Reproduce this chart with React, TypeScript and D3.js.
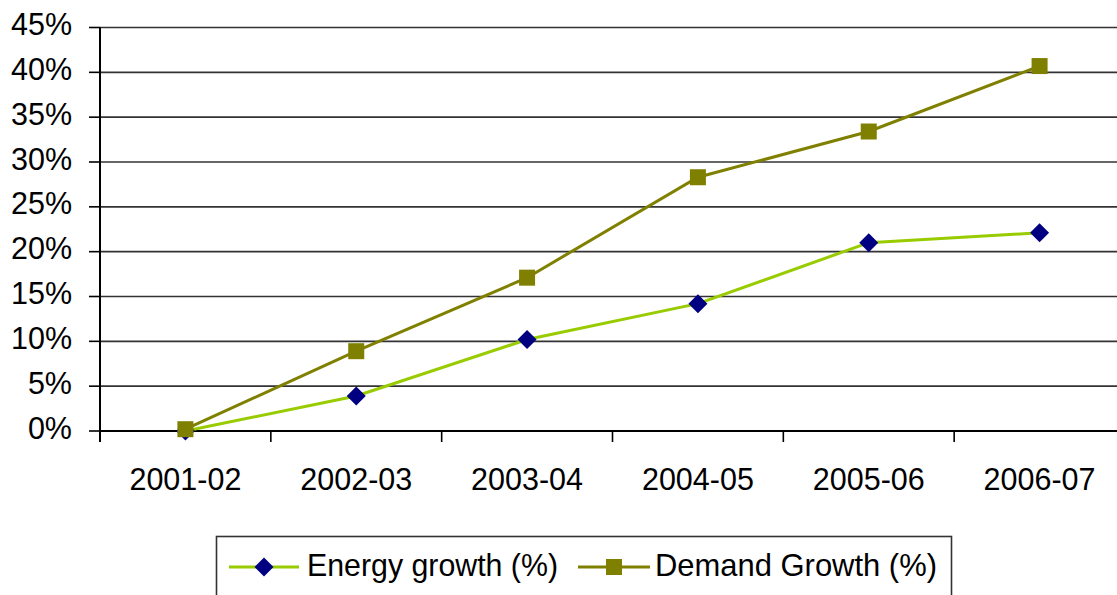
import React from "react";
import * as d3 from "d3";

const categories = ["2001-02", "2002-03", "2003-04", "2004-05", "2005-06", "2006-07"];
const energyGrowth = [0, 3.9, 10.2, 14.2, 21.0, 22.1];
const demandGrowth = [0.2, 8.9, 17.1, 28.3, 33.4, 40.7];
const yTicks = [0, 5, 10, 15, 20, 25, 30, 35, 40, 45];
const seriesNames = ["Energy growth (%)", "Demand Growth (%)"];

const W = 1117;
const H = 595;
const FONT = "'Liberation Sans', Arial, sans-serif";
const ENERGY_LINE = "#99cc00";
const ENERGY_MARK = "#000080";
const DEMAND = "#808000";

export default function App() {
  const x = d3.scaleBand<string>().domain(categories).range([100, 1125]);
  const y = d3.scaleLinear().domain([0, 45]).range([431, 27.5]);
  const cx = (c: string) => (x(c) as number) + x.bandwidth() / 2;

  const line = d3
    .line<number>()
    .x((_, i) => cx(categories[i]))
    .y((d) => y(d));

  const diamond = (px: number, py: number, r: number) =>
    `M${px},${py - r}L${px + r},${py}L${px},${py + r}L${px - r},${py}Z`;

  return (
    <svg
      width={W}
      height={H}
      style={{ position: "absolute", left: 0, top: 0, background: "#fff" }}
      fontFamily={FONT}
    >
      <rect x={0} y={0} width={W} height={H} fill="#fff" />
      {/* gridlines */}
      {yTicks.map((t) => (
        <line key={"g" + t} x1={100} x2={W} y1={y(t)} y2={y(t)} stroke={t === 0 ? "#000" : "#333"} strokeWidth={t === 0 ? 2 : 1.6} />
      ))}
      {/* y axis */}
      <line x1={100} x2={100} y1={y(45)} y2={442} stroke="#000" strokeWidth={2} />
      {yTicks.map((t) => (
        <g key={"yt" + t}>
          <line x1={89} x2={100} y1={y(t)} y2={y(t)} stroke="#000" strokeWidth={1.6} />
          <text x={72} y={y(t) + 7.5} textAnchor="end" fontSize={30.5} fill="#000">
            {t + "%"}
          </text>
        </g>
      ))}
      {/* x ticks */}
      {categories.map((c) => (
        <line key={"xt" + c} x1={x(c) as number} x2={x(c) as number} y1={431} y2={442} stroke="#000" strokeWidth={1.6} />
      ))}
      {categories.map((c) => (
        <text key={"xl" + c} x={cx(c)} y={490} textAnchor="middle" fontSize={30.5} fill="#000">
          {c}
        </text>
      ))}
      {/* lines */}
      <path d={line(energyGrowth) || ""} fill="none" stroke={ENERGY_LINE} strokeWidth={3} />
      <path d={line(demandGrowth) || ""} fill="none" stroke={DEMAND} strokeWidth={3} />
      {energyGrowth.map((v, i) => (
        <path key={"em" + i} d={diamond(cx(categories[i]), y(v), 9.5)} fill={ENERGY_MARK} />
      ))}
      {demandGrowth.map((v, i) => (
        <rect key={"dm" + i} x={cx(categories[i]) - 8} y={y(v) - 8} width={16} height={16} fill={DEMAND} />
      ))}
      {/* legend */}
      <rect x={216.5} y={536.5} width={735} height={70} fill="#fff" stroke="#333" strokeWidth={1.6} />
      <line x1={229} x2={299} y1={567} y2={567} stroke={ENERGY_LINE} strokeWidth={3} />
      <path d={diamond(264, 567, 9.5)} fill={ENERGY_MARK} />
      <text x={307} y={576} fontSize={30.5} fill="#000" textLength={251} lengthAdjust="spacingAndGlyphs">
        {seriesNames[0]}
      </text>
      <line x1={578} x2={650} y1={567} y2={567} stroke={DEMAND} strokeWidth={3} />
      <rect x={606} y={559} width={16} height={16} fill={DEMAND} />
      <text x={655} y={576} fontSize={30.5} fill="#000" textLength={282} lengthAdjust="spacingAndGlyphs">
        {seriesNames[1]}
      </text>
    </svg>
  );
}
